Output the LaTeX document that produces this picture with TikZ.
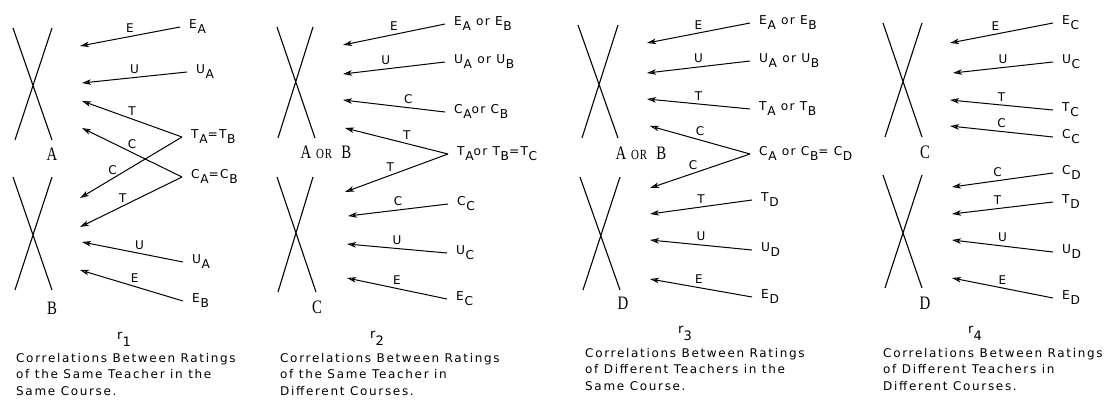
\documentclass[tikz,border=0pt]{standalone}
\usepackage{fontspec}
\usepackage{graphicx}
\usetikzlibrary{arrows.meta}
\newfontfamily\labf[LetterSpace=11]{DejaVu Sans}
\newfontfamily\capf[LetterSpace=14]{DejaVu Sans}
\newfontfamily\bigf{Liberation Serif}
\newcommand{\sbs}[1]{\kern0.6pt\raisebox{-5pt}{#1}}
\newcommand{\nar}[1]{\scalebox{0.78}[1]{#1}}
\newcommand{\arow}[8]{%
 \node[lab] (#1) at ({#2+9},{#3+1}) {#4};
 \coordinate (#1h) at (#5,#6);
 \draw[arr] ([shift={(-9,-1)}]#1.base west) -- node[elab,pos=#8]{#7} (#1h);}
\newcommand{\brow}[6]{%
 \coordinate (#2) at (#3,#4);
 \draw[arr] ([shift={(-9,-1)}]#1.base west) -- node[elab,pos=#6]{#5} (#2);}
\tikzset{
 lab/.style={anchor=base west, inner sep=0pt, font=\labf\fontsize{12.2}{14}\selectfont},
 elab/.style={above=2.5pt, inner sep=1pt, font=\labf\fontsize{12}{14}\selectfont},
 arr/.style={draw, line width=1pt, -{Stealth[length=9pt,width=5.5pt,inset=2.5pt,fill=gray!35]}},
 xl/.style={draw, line width=1.1pt},
 big/.style={inner sep=0pt, font=\bigf\fontsize{19}{19}\selectfont},
 rl/.style={anchor=base west, inner sep=0pt, font=\labf\fontsize{13}{14}\selectfont},
 captxt/.style={anchor=north west, inner sep=0pt, align=left, font=\capf\fontsize{12}{16.5}\selectfont}
}
\begin{document}
\begin{tikzpicture}[x=1pt,y=-1pt]
\useasboundingbox (0,0) rectangle (1114,400);
% X shapes
\draw[xl] (13,28)--(52,140) (52,28)--(15,140);
\draw[xl] (13,177)--(52,290) (52,177)--(15,290);
\draw[xl] (277,27)--(315,138) (313,27)--(278,138);
\draw[xl] (277,177)--(316,292) (313,177)--(278,292);
\draw[xl] (578,25)--(618,138) (618,25)--(582,138);
\draw[xl] (580,177)--(620,290) (620,177)--(583,290);
\draw[xl] (883,23)--(922,137) (922,23)--(885,137);
\draw[xl] (883,175)--(922,288) (922,175)--(885,288);
% big letters
\node[big] (la) at (52,154) {\nar{A}};
\node[big] (lb) at (52,308) {\nar{B}};
\node[big] (lab2) at (326,152) {\nar{A\hspace{6pt}{\fontsize{14}{14}\selectfont O\hspace{1pt}R}\hspace{12pt}B}};
\node[big] (lc2) at (317,307) {\nar{C}};
\node[big] (lab3) at (641,153) {\nar{A\hspace{6pt}{\fontsize{14}{14}\selectfont O\hspace{1pt}R}\hspace{12pt}B}};
\node[big] (ld3) at (623,303) {\nar{D}};
\node[big] (lc4) at (925,152) {\nar{C}};
\node[big] (ld4) at (925,303) {\nar{D}};
% panel 1
\arow{pa}{180}{27}{E\sbs{A}}{80}{46}{E}{0.5}
\arow{pb}{187}{72}{U\sbs{A}}{82}{83}{U}{0.5}
\arow{pc}{182}{137}{T\sbs{A}=T\sbs{B}}{82}{101}{T}{0.5}
\arow{pd}{182}{177}{C\sbs{A}=C\sbs{B}}{82}{128}{C}{0.5}
\brow{pc}{pe}{80}{198}{C}{0.68}
\brow{pd}{pf}{80}{227}{T}{0.58}
\arow{pg}{183}{262}{U\sbs{A}}{82}{242}{U}{0.43}
\arow{ph}{183}{301}{E\sbs{B}}{80}{270}{E}{0.47}
% panel 2
\arow{qa}{445}{24}{E\sbs{A} or E\sbs{B}}{343}{45}{E}{0.5}
\arow{qb}{445}{62}{U\sbs{A} or U\sbs{B}}{343}{74}{U}{0.58}
\arow{qc}{445}{112}{C\sbs{A}or C\sbs{B}}{343}{100}{C}{0.36}
\arow{qd}{448}{154}{T\sbs{A}or T\sbs{B}=T\sbs{C}}{345}{128}{T}{0.4}
\brow{qd}{qe}{345}{192}{T}{0.56}
\arow{qf}{448}{204}{C\sbs{C}}{348}{216}{C}{0.5}
\arow{qg}{447}{253}{U\sbs{C}}{347}{244}{U}{0.5}
\arow{qh}{447}{299}{E\sbs{C}}{347}{278}{E}{0.5}
% panel 3
\arow{ra}{750}{23}{E\sbs{A} or E\sbs{B}}{647}{43}{E}{0.5}
\arow{rb}{750}{61}{U\sbs{A} or U\sbs{B}}{647}{73}{U}{0.5}
\arow{rc}{750}{109}{T\sbs{A} or T\sbs{B}}{647}{99}{T}{0.5}
\arow{rd}{750}{154}{C\sbs{A} or C\sbs{B}= C\sbs{D}}{650}{126}{C}{0.5}
\brow{rd}{re}{650}{188}{C}{0.57}
\arow{rf}{752}{200}{T\sbs{D}}{650}{214}{T}{0.5}
\arow{rg}{752}{250}{U\sbs{D}}{650}{240}{U}{0.5}
\arow{rh}{752}{297}{E\sbs{D}}{650}{279}{E}{0.52}
% panel 4
\arow{sa}{1053}{23}{E\sbs{C}}{950}{43}{E}{0.56}
\arow{sb}{1053}{62}{U\sbs{C}}{953}{73}{U}{0.5}
\arow{sc}{1053}{110}{T\sbs{C}}{950}{100}{T}{0.5}
\arow{sd}{1053}{137}{C\sbs{C}}{950}{126}{C}{0.5}
\arow{se}{1053}{173}{C\sbs{D}}{952}{187}{C}{0.55}
\arow{sf}{1053}{202}{T\sbs{D}}{952}{214}{T}{0.55}
\arow{sg}{1053}{252}{U\sbs{D}}{952}{240}{U}{0.5}
\arow{sh}{1053}{298}{E\sbs{D}}{952}{278}{E}{0.5}
% r labels
\node[rl] (r1) at (117,339) {r\raisebox{-7pt}{1}};
\node[rl] (r2) at (370,338) {r\raisebox{-7pt}{2}};
\node[rl] (r3) at (678,333) {r\raisebox{-7pt}{3}};
\node[rl] (r4) at (968,333) {r\raisebox{-7pt}{4}};
% captions
\node[captxt] (c1) at (16,353) {Correlations Between Ratings\\of the Same Teacher in the\\Same Course.};
\node[captxt] (c2) at (280,353) {Correlations Between Ratings\\of the Same Teacher in\\Different Courses.};
\node[captxt] (c3) at (585,348) {Correlations Between Ratings\\of Different Teachers in the\\Same Course.};
\node[captxt] (c4) at (883,348) {Correlations Between Ratings\\of Different Teachers in\\Different Courses.};
\end{tikzpicture}
\end{document}
